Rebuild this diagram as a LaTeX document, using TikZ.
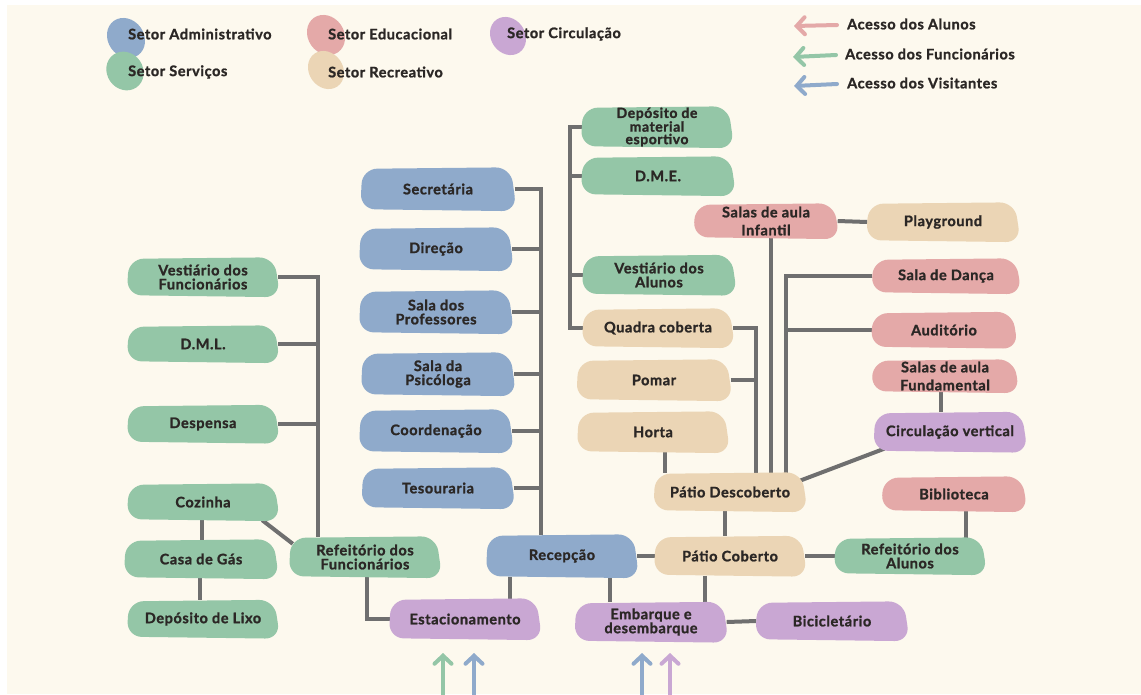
\documentclass[tikz,border=0pt]{standalone}
\usepackage{fontspec}
\setmainfont{Lato}
\newfontfamily\labfont{Lato}[LetterSpace=4, BoldFeatures={FakeBold=1.3}]
\usetikzlibrary{arrows.meta}
\pgfdeclarelayer{back}
\pgfdeclarelayer{bg}
\pgfdeclarelayer{fills}
\pgfsetlayers{back,bg,fills,main}
\definecolor{bgc}{HTML}{FDF9EE}
\definecolor{admc}{HTML}{8FAACB}
\definecolor{srvc}{HTML}{94C6A7}
\definecolor{educ}{HTML}{E4A9A8}
\definecolor{circ}{HTML}{C9A7D3}
\definecolor{recc}{HTML}{EBD5B5}
\definecolor{linec}{HTML}{6F6F6F}
\definecolor{textc}{HTML}{2B2725}
\tikzset{
  box/.style={rectangle, minimum width=150pt, minimum height=40pt,
    inner sep=0pt, align=center, text=textc, font=\labfont\bfseries\fontsize{14.5}{14}\selectfont},
  link/.style={draw=linec, line width=4pt},
  legtext/.style={anchor=west, inner sep=0pt, text=textc, font=\labfont\bfseries\fontsize{14.5}{15}\selectfont},
  acc/.style={line width=4pt, line cap=round, -{Straight Barb[length=8pt,width=17pt,line cap=round]}},
  blobshape/.style={rounded corners=15pt},
}
\newcommand\blobfill[2]{%
  \fill[#2, blobshape] ([xshift=1pt,yshift=-1pt]#1.north west) -- ([xshift=-4pt,yshift=0.5pt]#1.north east)
    -- ([xshift=2pt,yshift=-1pt]#1.south east) -- ([xshift=-1pt,yshift=1pt]#1.south west) -- cycle;}
\begin{document}
\begin{tikzpicture}[x=1pt,y=-1pt]
\useasboundingbox (0,0) rectangle (1141,694);
\begin{pgfonlayer}{back}
\fill[white] (0,0) rectangle (1141,694);
\fill[bgc] (7,5) rectangle (1141,694);
\end{pgfonlayer}

% legend
\fill[admc, rotate around={-55:(126,38)}] (126,38) ellipse [x radius=21pt, y radius=18pt];
\fill[educ, rotate around={-55:(326,35)}] (326,35) ellipse [x radius=21pt, y radius=18pt];
\fill[circ, rotate around={-55:(508,36)}] (508,36) ellipse [x radius=20pt, y radius=17pt];
\fill[srvc, rotate around={-55:(125,71)}] (125,71) ellipse [x radius=20pt, y radius=18pt];
\fill[recc, rotate around={-55:(326,70)}] (326,70) ellipse [x radius=20pt, y radius=17pt];
\node[legtext] (l1) at (128,34) {Setor Administrativo};
\node[legtext] (l2) at (328,34) {Setor Educacional};
\node[legtext] (l3) at (507,34) {Setor Circulação};
\node[legtext] (l4) at (128,72) {Setor Serviços};
\node[legtext] (l5) at (328,72) {Setor Recreativo};

\node[legtext] (k1) at (847,24) {Acesso dos Alunos};
\node[legtext] (k2) at (845,54) {Acesso dos Funcionários};
\node[legtext] (k3) at (847,83) {Acesso dos Visitantes};
\coordinate (k1a) at (837,25); \coordinate (k1b) at (794,26);
\coordinate (k2a) at (836,55); \coordinate (k2b) at (793,57);
\coordinate (k3a) at (837,84); \coordinate (k3b) at (794,86);
\draw[acc, educ] (k1a) -- (k1b);
\draw[acc, srvc] (k2a) -- (k2b);
\draw[acc, admc] (k3a) -- (k3b);

% nodes
\node[box, minimum height=38pt] (vf) at (203,277) {Vestiário dos\\Funcionários};
\node[box, minimum height=36pt] (dml) at (203,344) {D.M.L.};
\node[box, minimum height=37pt] (desp) at (203,424) {Despensa};
\node[box, minimum height=36pt] (coz) at (203,502) {Cozinha};
\node[box, minimum height=38pt, minimum width=152pt] (gas) at (201,559) {Casa de Gás};
\node[box, minimum height=37pt] (lixo) at (203,619) {Depósito de Lixo};
\node[box] (rf) at (365,557) {Refeitório dos\\Funcionários};

\node[box, minimum width=153pt, minimum height=42pt] (sec) at (438,189) {Secretária};
\node[box, minimum width=152pt, minimum height=42pt] (dir) at (436,249) {Direção};
\node[box, minimum width=152pt, minimum height=42pt] (prof) at (436,312) {Sala dos\\Professores};
\node[box, minimum width=152pt, minimum height=42pt] (psi) at (438,374) {Sala da\\Psicóloga};
\node[box, minimum width=152pt, minimum height=42pt] (coo) at (436,431) {Coordenação};
\node[box, minimum width=151pt] (tes) at (438,488) {Tesouraria};
\node[box, minimum height=42pt] (rec) at (562,556) {Recepção};

\node[box, font=\labfont\bfseries\fontsize{14}{12.5}\selectfont] (dep) at (657,127) {Depósito de\\material\\esportivo};
\node[box, minimum width=152pt, minimum height=38pt] (dme) at (658,176) {D.M.E.};
\node[box, minimum width=152pt, minimum height=39pt] (va) at (659,275) {Vestiário dos\\Alunos};
\node[box, minimum height=38pt] (qc) at (658,328) {Quadra coberta};
\node[box, minimum width=153pt] (pom) at (654,380) {Pomar};
\node[box] (hor) at (653,432) {Horta};
\node[box, minimum width=151pt, minimum height=38pt] (pd) at (730,492) {Pátio Descoberto};
\node[box, minimum height=39pt] (pc) at (730,556) {Pátio Coberto};
\node[box, minimum width=151pt, minimum height=38pt] (play) at (943,222) {Playground};

\node[box, minimum width=143pt, minimum height=34pt, font=\labfont\bfseries\fontsize{14.5}{18}\selectfont] (inf) at (766,221) {Salas de aula\\Infantil};
\node[box, minimum width=147pt, minimum height=34pt] (dan) at (946,276) {Sala de Dança};
\node[box, minimum width=144pt, minimum height=35pt] (aud) at (944,330) {Auditório};
\node[box, minimum width=145pt, minimum height=32pt, font=\labfont\bfseries\fontsize{14.5}{18}\selectfont] (fund) at (945,376) {Salas de aula\\Fundamental};
\node[box, minimum width=143pt, minimum height=34pt] (bib) at (954,494) {Biblioteca};
\node[box, minimum height=36pt] (ra) at (910,556) {Refeitório dos\\Alunos};

\node[box, minimum width=151pt, minimum height=39pt] (cv) at (950,432) {Circulação vertical};
\node[box] (est) at (465,619) {Estacionamento};
\node[box, minimum width=151pt, minimum height=39pt] (emb) at (651,622) {Embarque e\\desembarque};
\node[box, minimum width=151pt, minimum height=38pt] (bic) at (832,621) {Bicicletário};

\begin{pgfonlayer}{fills}
\foreach \n/\c in {vf/srvc, dml/srvc, desp/srvc, coz/srvc, gas/srvc, lixo/srvc, rf/srvc,
  sec/admc, dir/admc, prof/admc, psi/admc, coo/admc, tes/admc, rec/admc,
  dep/srvc, dme/srvc, va/srvc, qc/recc, pom/recc, hor/recc, pd/recc, pc/recc, play/recc,
  inf/educ, dan/educ, aud/educ, fund/educ, bib/educ, ra/srvc,
  cv/circ, est/circ, emb/circ, bic/circ}{\blobfill{\n}{\c}}
\end{pgfonlayer}

% bus coordinates
\coordinate (busL) at (318,0);
\coordinate (busA) at (541,0);
\coordinate (busM) at (570,0);
\coordinate (busQ) at (756,0);
\coordinate (busI) at (771,0);
\coordinate (busR) at (786,0);

\begin{pgfonlayer}{bg}
% left services
\draw[link] (vf.east) -| (busL |- rf.north);
\draw[link] (dml.east) -- (dml.east -| busL);
\draw[link] (desp.east) -- (desp.east -| busL);
\draw[link] ([xshift=-1pt]coz.south) -- ([xshift=-1pt]coz.south |- gas.north);
\draw[link] ([xshift=-1pt]gas.south) -- ([xshift=-1pt]gas.south |- lixo.north);
\draw[link] ([xshift=-16pt]coz.south east) -- ([xshift=3pt,yshift=-7pt]rf.north west);
\draw[link] ([xshift=2pt]rf.south) |- (est.west);
% admin
\draw[link] (sec.east) -| (busA |- rec.north);
\draw[link] (dir.east) -- (dir.east -| busA);
\draw[link] (prof.east) -- (prof.east -| busA);
\draw[link] (psi.east) -- (psi.east -| busA);
\draw[link] (coo.east) -- (coo.east -| busA);
\draw[link] (tes.east) -- (tes.east -| busA);
% green column
\draw[link] (dep.west) -| (busM |- qc.west) -- (qc.west);
\draw[link] (dme.west) -- (dme.west -| busM);
\draw[link] (va.west) -- (va.west -| busM);
% recreation
\draw[link] (qc.east) -| (busQ |- pd.north);
\draw[link] (pom.east) -- (pom.east -| busQ);
\draw[link] ([xshift=12pt]hor.south) -- ([xshift=12pt]hor.south |- pd.north);
\draw[link] (inf.south -| busI) -- (busI |- pd.north);
\draw[link] (inf.east) -- (play.west);
\draw[link] (dan.west) -| (busR |- pd.north);
\draw[link] (aud.west) -- (aud.west -| busR);
\draw[link] ([xshift=-4pt]fund.south) -- ([xshift=-4pt]fund.south |- cv.north);
\draw[link] ([xshift=10pt,yshift=3pt]cv.south west) -- ([xshift=-6pt,yshift=-8pt]pd.north east);
\draw[link] ([xshift=-5pt]pd.south) -- ([xshift=-5pt]pd.south |- pc.north);
\draw[link] (rec.east) -- (pc.west);
\draw[link] (pc.east) -- (ra.west);
\draw[link] ([xshift=12pt]bib.south) -- ([xshift=12pt]bib.south |- ra.north);
\draw[link] ([xshift=-52pt]rec.south) -- ([xshift=-52pt]rec.south |- est.north);
\draw[link] ([xshift=48pt]rec.south) -- ([xshift=48pt]rec.south |- emb.north);
\draw[link] ([xshift=-25pt]pc.south) -- ([xshift=-25pt]pc.south |- emb.north);
\draw[link] (emb.east) -- (bic.west);
\end{pgfonlayer}

% access arrows
\coordinate (a1b) at (443,700); \coordinate (a1t) at (443,653);
\coordinate (a2b) at (474,700); \coordinate (a2t) at (474,653);
\coordinate (a3b) at (642,700); \coordinate (a3t) at (642,653);
\coordinate (a4b) at (670,700); \coordinate (a4t) at (670,653);
\draw[acc, srvc] (a1b) -- (a1t);
\draw[acc, admc] (a2b) -- (a2t);
\draw[acc, admc] (a3b) -- (a3t);
\draw[acc, circ] (a4b) -- (a4t);
\end{tikzpicture}
\end{document}
